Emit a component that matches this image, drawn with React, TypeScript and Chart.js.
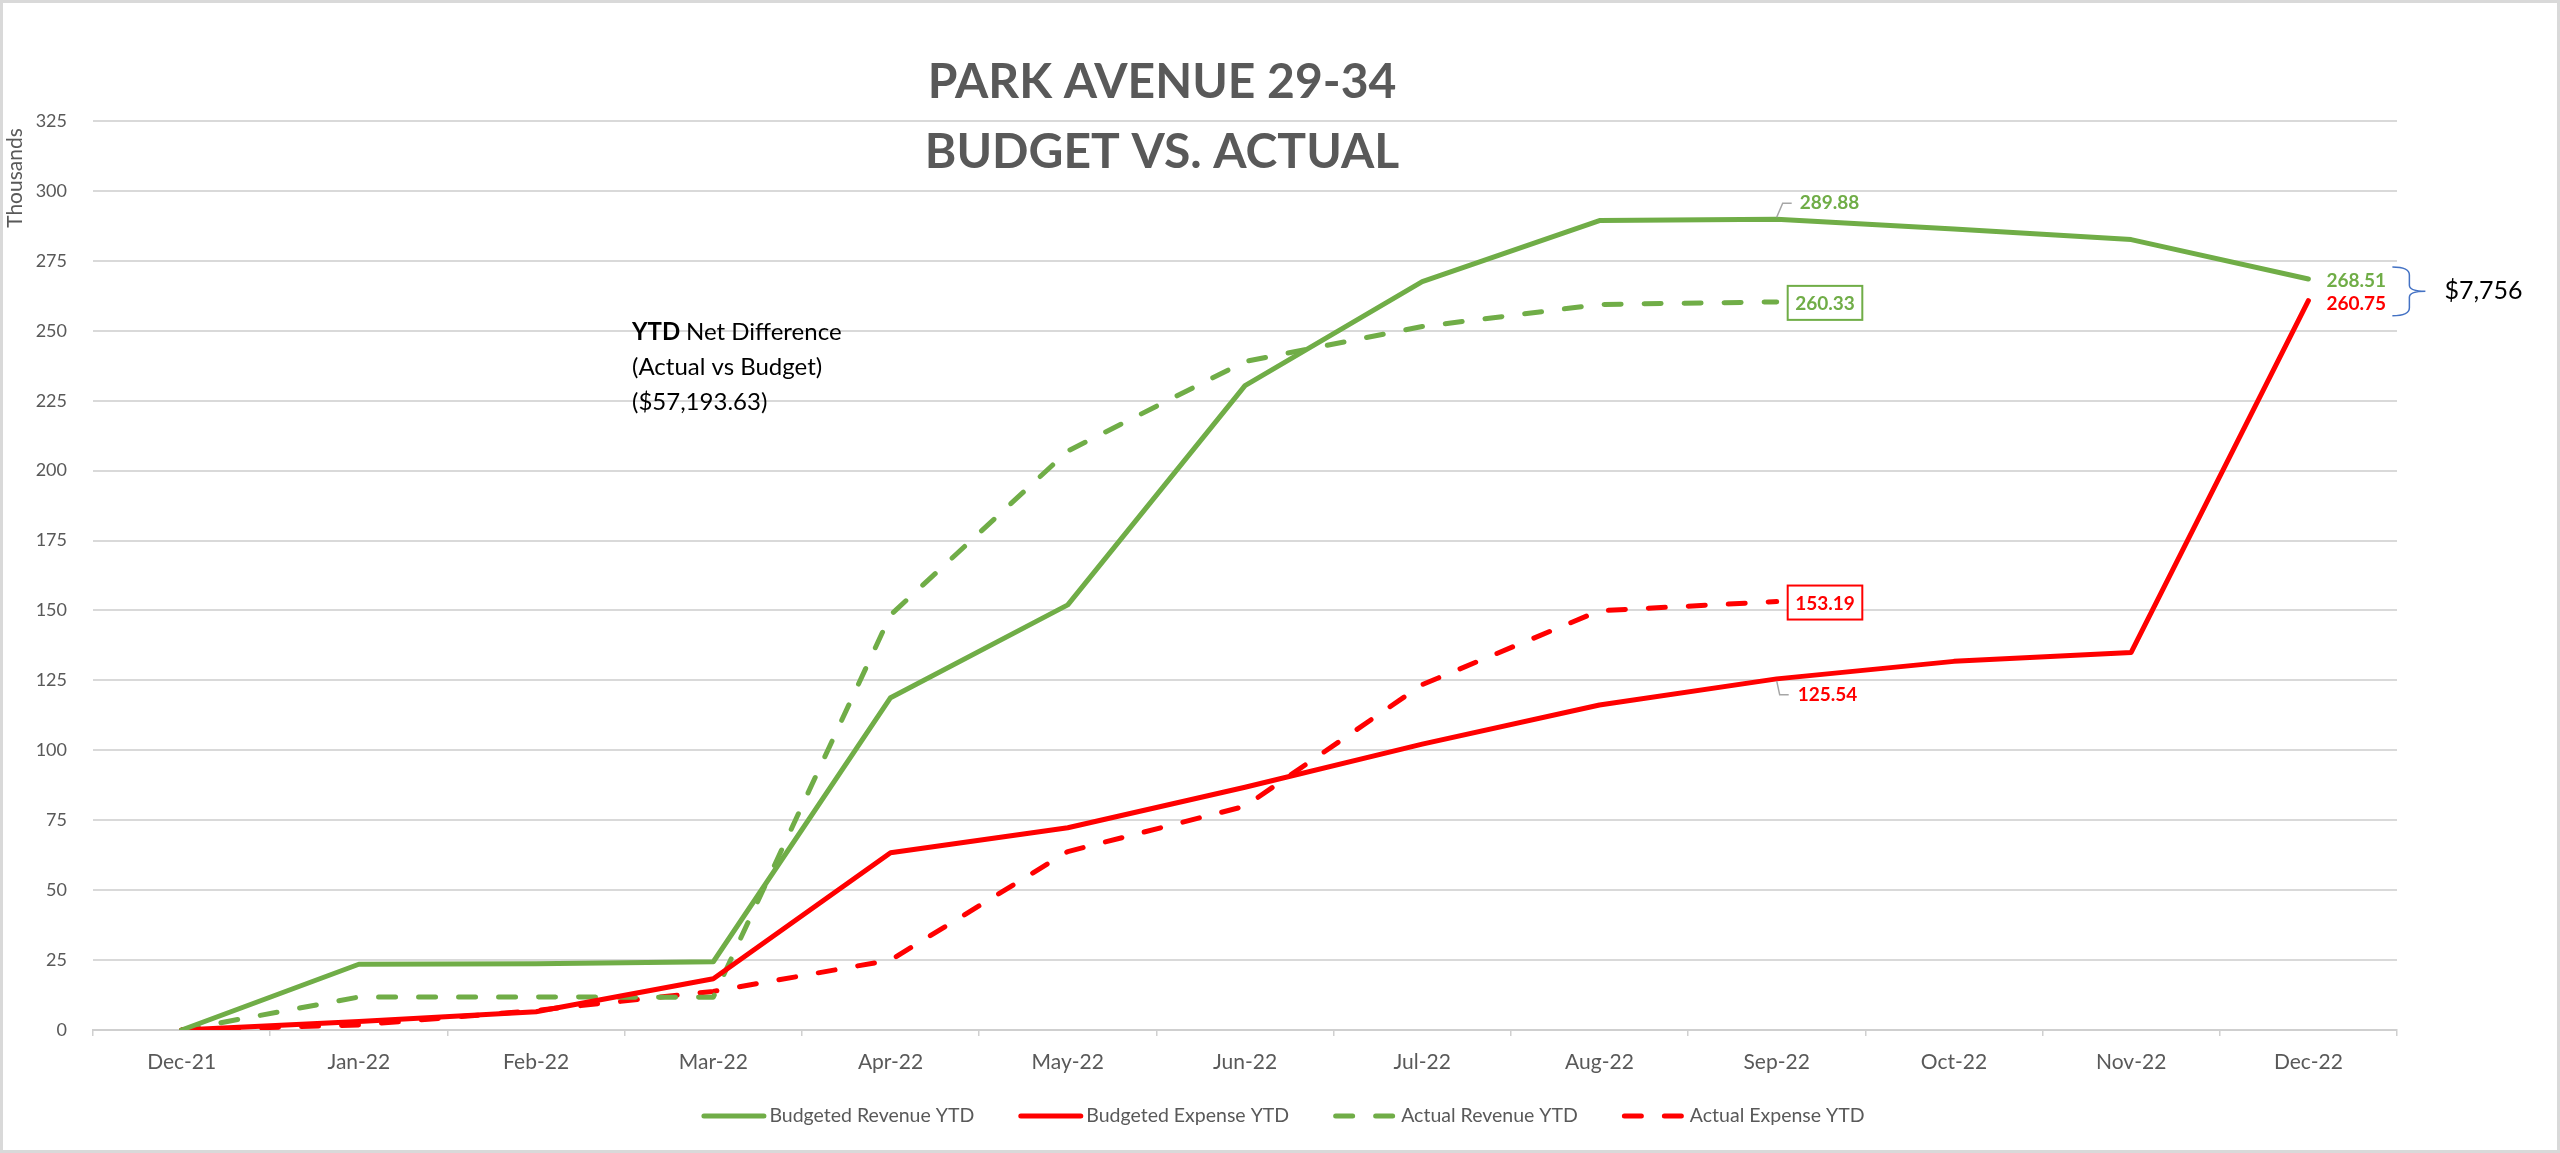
import React, { useEffect, useRef } from "react";
import { Chart, registerables } from "chart.js";

Chart.register(...registerables);

// ---------- data (thousands) ----------
const categories = [
  "Dec-21", "Jan-22", "Feb-22", "Mar-22", "Apr-22", "May-22", "Jun-22",
  "Jul-22", "Aug-22", "Sep-22", "Oct-22", "Nov-22", "Dec-22",
];
const budgetedRevenue = [0, 23.5, 23.7, 24.4, 118.8, 152.0, 230.4, 267.6, 289.4, 289.88, 286.4, 282.6, 268.51];
const budgetedExpense = [0, 3.0, 6.5, 18.3, 63.4, 72.3, 86.8, 102.2, 116.2, 125.54, 131.8, 135.0, 260.75];
const actualRevenue = [0, 11.8, 11.8, 11.7, 148.4, 207.0, 239.0, 251.5, 259.4, 260.33, null, null, null];
const actualExpense = [0, 1.8, 7.0, 13.8, 25.0, 63.8, 80.0, 123.5, 149.9, 153.19, null, null, null];
const seriesNames = ["Budgeted Revenue YTD", "Budgeted Expense YTD", "Actual Revenue YTD", "Actual Expense YTD"];
const yTicks = [0, 25, 50, 75, 100, 125, 150, 175, 200, 225, 250, 275, 300, 325];
const titleLines = ["PARK AVENUE 29-34", "BUDGET VS. ACTUAL"];
const noteLines = ["Net Difference", "(Actual vs Budget)", "($57,193.63)"];
const noteBold = "YTD";
const gapText = "$7,756";
const axisTitle = "Thousands";

const GREEN = "#70AD47";
const RED = "#FF0000";
const GRAY = "#595959";
const FONT = "Lato, 'Open Sans', sans-serif";

const annotationPlugin = {
  id: "annotations",
  beforeDraw(chart: any) {
    const { ctx, width, height } = chart;
    ctx.save();
    ctx.fillStyle = "#ffffff";
    ctx.fillRect(0, 0, width, height);
    ctx.strokeStyle = "#d9d9d9";
    ctx.lineWidth = 3;
    ctx.strokeRect(1.5, 1.5, width - 3, height - 3);
    ctx.restore();
  },
  afterDraw(chart: any) {
    const { ctx } = chart;
    ctx.save();
    // Title
    ctx.fillStyle = GRAY;
    ctx.font = `bold 48px ${FONT}`;
    ctx.textAlign = "center";
    ctx.textBaseline = "middle";
    ctx.fillText(titleLines[0], 1162, 83);
    ctx.fillText(titleLines[1], 1162, 153);

    // Thousands axis label
    ctx.save();
    ctx.translate(15, 178);
    ctx.rotate(-Math.PI / 2);
    ctx.font = `21px ${FONT}`;
    ctx.fillStyle = GRAY;
    ctx.textAlign = "center";
    ctx.textBaseline = "middle";
    ctx.fillText(axisTitle, 0, 0);
    ctx.restore();

    // YTD note
    ctx.textAlign = "left";
    ctx.textBaseline = "middle";
    ctx.fillStyle = "#000000";
    ctx.font = `bold 24px ${FONT}`;
    ctx.fillText(noteBold, 632, 332);
    const bw = ctx.measureText(noteBold + " ").width;
    ctx.font = `24px ${FONT}`;
    ctx.fillText(noteLines[0], 632 + bw, 332);
    ctx.fillText(noteLines[1], 632, 367);
    ctx.fillText(noteLines[2], 632, 402);

    const pt = (ds: number, i: number) => chart.getDatasetMeta(ds).data[i];
    const last = categories.length - 1;
    const sep = 9;
    ctx.font = `bold 19px ${FONT}`;

    // 289.88 with leader line above
    {
      const p = pt(0, sep);
      ctx.strokeStyle = "#a6a6a6";
      ctx.lineWidth = 1.5;
      ctx.beginPath();
      ctx.moveTo(p.x, p.y - 2);
      ctx.lineTo(p.x + 6, p.y - 16);
      ctx.lineTo(p.x + 15, p.y - 16);
      ctx.stroke();
      ctx.fillStyle = GREEN;
      ctx.fillText((budgetedRevenue[sep] as number).toFixed(2), p.x + 23, p.y - 16);
    }
    // 125.54 with leader line below
    {
      const p = pt(1, sep);
      ctx.strokeStyle = "#a6a6a6";
      ctx.lineWidth = 1.5;
      ctx.beginPath();
      ctx.moveTo(p.x, p.y + 2);
      ctx.lineTo(p.x + 3, p.y + 16);
      ctx.lineTo(p.x + 12, p.y + 16);
      ctx.stroke();
      ctx.fillStyle = RED;
      ctx.fillText((budgetedExpense[sep] as number).toFixed(2), p.x + 21, p.y + 16);
    }
    // boxed labels
    const boxed = (ds: number, val: number, color: string) => {
      const p = pt(ds, sep);
      const txt = val.toFixed(2);
      const tw = ctx.measureText(txt).width;
      const bx = p.x + 11;
      const bh = 34;
      ctx.fillStyle = "#ffffff";
      ctx.fillRect(bx, p.y + 1 - bh / 2, tw + 15, bh);
      ctx.strokeStyle = color;
      ctx.lineWidth = 2;
      ctx.strokeRect(bx, p.y + 1 - bh / 2, tw + 15, bh);
      ctx.fillStyle = color;
      ctx.fillText(txt, bx + 7.5, p.y + 2);
    };
    boxed(2, actualRevenue[sep] as number, GREEN);
    boxed(3, actualExpense[sep] as number, RED);

    // Dec-22 labels
    const pg = pt(0, last);
    const pr = pt(1, last);
    ctx.fillStyle = GREEN;
    ctx.fillText((budgetedRevenue[last] as number).toFixed(2), pg.x + 18, pg.y + 2);
    ctx.fillStyle = RED;
    ctx.fillText((budgetedExpense[last] as number).toFixed(2), pr.x + 18, pr.y + 3);

    // brace
    const bx = pg.x + 84;
    const top = pg.y - 12;
    const bottom = pr.y + 15;
    const mid = (top + bottom) / 2;
    ctx.strokeStyle = "#4472C4";
    ctx.lineWidth = 1.5;
    ctx.beginPath();
    ctx.moveTo(bx, top);
    ctx.quadraticCurveTo(bx + 17, top, bx + 17, top + 8);
    ctx.lineTo(bx + 17, mid - 6);
    ctx.quadraticCurveTo(bx + 17, mid, bx + 33, mid);
    ctx.moveTo(bx + 33, mid);
    ctx.quadraticCurveTo(bx + 17, mid, bx + 17, mid + 6);
    ctx.lineTo(bx + 17, bottom - 8);
    ctx.quadraticCurveTo(bx + 17, bottom, bx, bottom);
    ctx.stroke();
    ctx.fillStyle = "#000000";
    ctx.font = `25px ${FONT}`;
    ctx.fillText(gapText, bx + 52, mid);

    // Legend (drawn from the datasets)
    const datasets = chart.data.datasets;
    const swatch = 60;
    const gapText2 = 8;
    const itemGap = 44;
    const ly = 1116;
    ctx.font = `19.5px ${FONT}`;
    const widths = datasets.map((d: any) => swatch + gapText2 + ctx.measureText(d.label).width);
    const total = widths.reduce((a: number, b: number) => a + b, 0) + itemGap * (datasets.length - 1);
    let lx = chart.width / 2 + 3 - total / 2;
    datasets.forEach((d: any, i: number) => {
      ctx.save();
      ctx.strokeStyle = d.borderColor;
      ctx.lineWidth = d.borderWidth;
      ctx.lineCap = "round";
      ctx.setLineDash(d.borderDash || []);
      ctx.beginPath();
      ctx.moveTo(lx + 2.5, ly);
      ctx.lineTo(lx + 2.5 + swatch, ly);
      ctx.stroke();
      ctx.restore();
      ctx.fillStyle = GRAY;
      ctx.textAlign = "left";
      ctx.textBaseline = "middle";
      ctx.fillText(d.label, lx + swatch + gapText2, ly);
      lx += widths[i] + itemGap;
    });
    ctx.restore();
  },
};

export default function App() {
  const ref = useRef<HTMLCanvasElement | null>(null);
  useEffect(() => {
    if (!ref.current) return;
    const dashed = [17, 23];
    const common = {
      borderWidth: 5,
      pointRadius: 0,
      pointHoverRadius: 0,
      tension: 0,
      fill: false,
      borderJoinStyle: "round" as const,
      borderCapStyle: "round" as const,
      spanGaps: false,
    };
    const chart = new Chart(ref.current, {
      type: "line",
      data: {
        labels: categories,
        datasets: [
          { ...common, label: seriesNames[0], data: budgetedRevenue, borderColor: GREEN, backgroundColor: GREEN },
          { ...common, label: seriesNames[1], data: budgetedExpense, borderColor: RED, backgroundColor: RED },
          { ...common, label: seriesNames[2], data: actualRevenue, borderColor: GREEN, backgroundColor: GREEN, borderDash: dashed },
          { ...common, label: seriesNames[3], data: actualExpense, borderColor: RED, backgroundColor: RED, borderDash: dashed },
        ],
      },
      options: {
        animation: false,
        responsive: true,
        maintainAspectRatio: false,
        layout: { padding: { top: 121, left: 0, right: 0, bottom: 0 } },
        plugins: {
          title: { display: false },
          tooltip: { enabled: false },
          legend: { display: false },
        },
        scales: {
          x: {
            type: "category",
            offset: true,
            grid: {
              display: true,
              drawOnChartArea: false,
              drawTicks: true,
              tickLength: 6,
              color: "#d0d0d0",
              lineWidth: 1.5,
              offset: true,
            },
            border: { display: true, color: "#cfcfcf", width: 2, dash: [2, 2] },
            ticks: {
              color: GRAY,
              font: { family: FONT, size: 21 },
              padding: 14,
              maxRotation: 0,
              autoSkip: false,
            },
            afterFit(scale: any) {
              scale.height = 123;
            },
          },
          y: {
            min: 0,
            max: yTicks[yTicks.length - 1],
            afterBuildTicks(scale: any) {
              scale.ticks = yTicks.map((v) => ({ value: v }));
            },
            grid: {
              drawTicks: false,
              lineWidth: 2,
              color: (c: any) => (c.tick && c.tick.value === 0 ? "rgba(0,0,0,0)" : "#d9d9d9"),
            },
            border: { display: false },
            ticks: {
              color: GRAY,
              font: { family: FONT, size: 18 },
              padding: 26,
              callback: (v: any) => String(v),
            },
            afterFit(scale: any) {
              scale.width = 93;
            },
          },
          yRight: {
            position: "right",
            display: true,
            grid: { display: false },
            border: { display: false },
            ticks: { display: false },
            afterFit(scale: any) {
              scale.width = 163;
            },
          },
        },
      },
      plugins: [annotationPlugin],
    } as any);
    return () => chart.destroy();
  }, []);

  return (
    <div style={{ position: "absolute", left: 0, top: 0, width: 2560, height: 1153 }}>
      <canvas ref={ref} style={{ display: "block" }} />
    </div>
  );
}
